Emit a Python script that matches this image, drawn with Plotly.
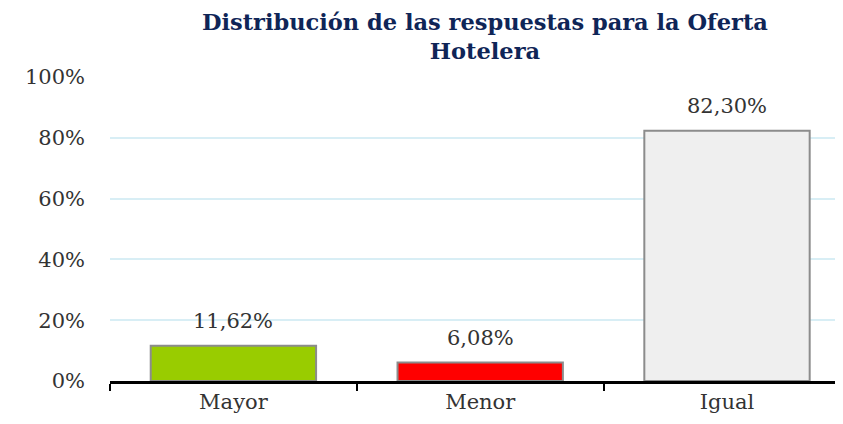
import plotly.graph_objects as go

categories = ["Mayor", "Menor", "Igual"]
values = [0.1162, 0.0608, 0.8230]
colors = ["#99CC00", "#FF0000", "#EFEFEF"]
title_text = "Distribución de las respuestas para la Oferta<br>Hotelera"

serif = "Georgia, 'DejaVu Serif', serif"

fig = go.Figure()
fig.add_trace(go.Bar(
    x=categories, y=values,
    marker=dict(color=colors, line=dict(color="#8C8C8C", width=2)),
    width=0.67,
    hoverinfo="skip",
))

for c, v in zip(categories, values):
    fig.add_annotation(
        x=c, y=v, xref="x", yref="y",
        text=f"{v*100:.2f}%".replace(".", ","),
        showarrow=False, yanchor="bottom", yshift=11,
        font=dict(family=serif, size=21, color="#333333"),
    )

fig.add_annotation(
    text=title_text, xref="paper", yref="paper", x=0.512, y=1.0, yshift=70,
    xanchor="center", yanchor="top", showarrow=False, align="center",
    font=dict(family="'DejaVu Serif', serif", size=22.5, color="#0F2557", weight="bold"),
)

fig.update_layout(
    width=835, height=416,
    margin=dict(l=102, r=0, t=69, b=43),
    paper_bgcolor="white", plot_bgcolor="white",
    separators=",.",
    showlegend=False,
    xaxis=dict(
        range=[-0.5, 2.47],
        tickson="boundaries", ticks="outside", ticklen=7, tickwidth=2, tickcolor="black",
        showline=True, linecolor="black", linewidth=3,
        showgrid=False,
        tickfont=dict(family=serif, size=21, color="#333333"),
    ),
    yaxis=dict(
        range=[0, 1.0], tickvals=[0, 0.2, 0.4, 0.6, 0.8, 1.0], tickformat=".0%",
        showgrid=True, gridcolor="#D8EEF5", gridwidth=2,
        zeroline=False, showline=False, ticks="",
        ticklabelstandoff=24,
        tickfont=dict(family=serif, size=21, color="#333333"),
    ),
)

fig.write_html("out.html")
